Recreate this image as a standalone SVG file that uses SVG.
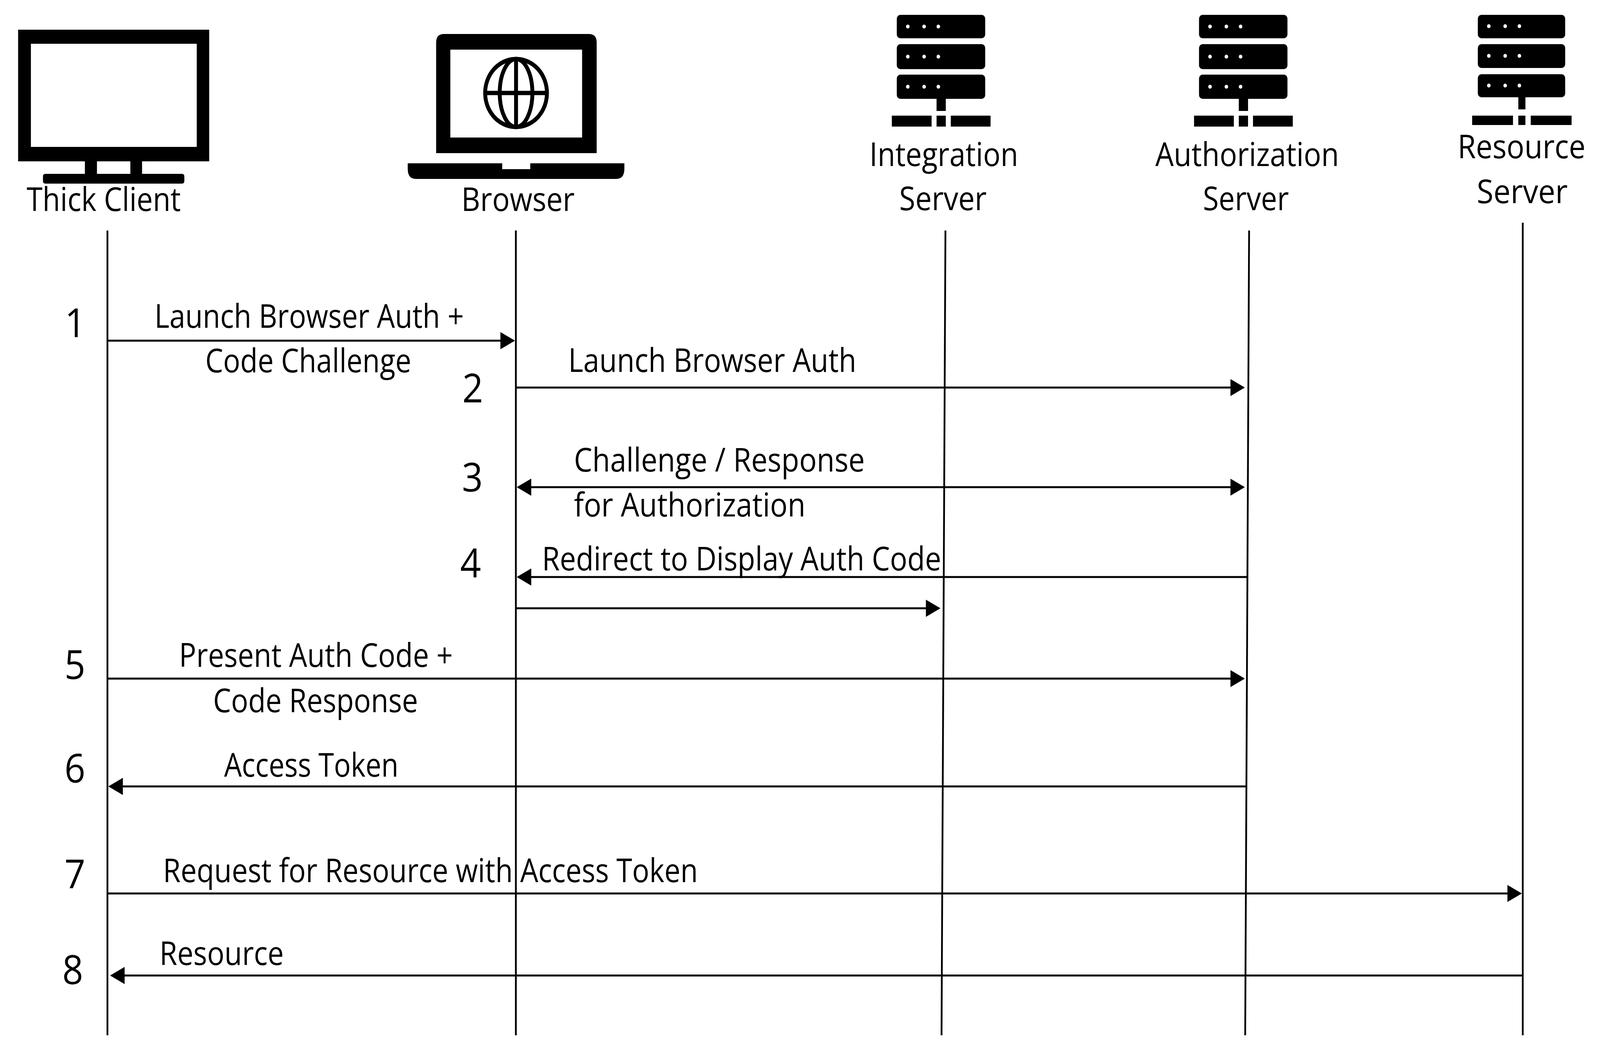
<svg xmlns="http://www.w3.org/2000/svg" width="4505" height="2680" viewBox="0 0 4505 2680" preserveAspectRatio="none" style="display:block;width:100vw;height:100vh">
<style>
.t{font-family:"Open Sans","Noto Sans","Liberation Sans",sans-serif;font-size:84px;fill:#000}
.n{font-family:"Open Sans","Noto Sans","Liberation Sans",sans-serif;font-size:103px;fill:#000;text-anchor:middle}
.l{stroke:#000;stroke-width:5;fill:none}
.m{stroke:#000;stroke-width:5;fill:none;marker-end:url(#ah)}
</style>
<defs>
<marker id="ah" markerUnits="userSpaceOnUse" markerWidth="42" markerHeight="46" refX="37" refY="23" orient="auto-start-reverse"><path d="M0 1L41 23L0 45Z" fill="#000"/></marker>
<g id="dots" fill="#fff"><circle cx="31" cy="0" r="5"/><circle cx="77" cy="0" r="5"/><circle cx="117" cy="0" r="5"/></g>
</defs>
<rect width="4505" height="2680" fill="#fff"/>

<g id="connectors">
<line class="l" x1="302.5" y1="590" x2="302.5" y2="2650"/>
<line class="l" x1="1452.5" y1="590" x2="1452.5" y2="2650"/>
<line class="l" x1="2662" y1="590" x2="2651" y2="2650"/>
<line class="l" x1="3517" y1="590" x2="3506" y2="2650"/>
<line class="l" x1="4287.5" y1="570" x2="4287.5" y2="2650"/>
<line class="m" x1="303" y1="872" x2="1446" y2="872"/>
<line class="m" x1="1453" y1="992" x2="3501" y2="992"/>
<line class="m" x1="1459" y1="1247" x2="3501" y2="1247" style="marker-start:url(#ah)"/>
<line class="m" x1="3514" y1="1477" x2="1459" y2="1477"/>
<line class="m" x1="1453" y1="1557" x2="2644" y2="1557"/>
<line class="m" x1="303" y1="1737" x2="3501" y2="1737"/>
<line class="m" x1="3510" y1="2013" x2="309" y2="2013"/>
<line class="m" x1="303" y1="2287" x2="4281" y2="2287"/>
<line class="m" x1="4287" y1="2497" x2="314" y2="2497"/>
</g>

<g id="node-thick-client">
<path fill-rule="evenodd" d="M51 76H589V413H51ZM87 112V376H554V112Z"/>
<rect x="239" y="410" width="34" height="40"/><rect x="367" y="410" width="33" height="40"/>
<rect x="121" y="445" width="398" height="25" rx="6"/>
<text class="t" x="75" y="540" textLength="434" lengthAdjust="spacingAndGlyphs">Thick Client</text>
</g>

<g id="node-browser">
<path fill-rule="evenodd" d="M1250 87H1658Q1680 87 1680 109V392H1228V109Q1228 87 1250 87ZM1268 127V352H1639V127Z"/>
<g fill="none" stroke="#000" stroke-width="11">
<circle cx="1453" cy="238" r="87"/>
<ellipse cx="1453" cy="238" rx="46" ry="87"/>
<line x1="1453" y1="151" x2="1453" y2="325"/>
<line x1="1366" y1="238" x2="1540" y2="238"/>
</g>
<path d="M1148 418H1414V433H1493V418H1758V432Q1758 458 1735 458H1171Q1148 458 1148 432Z"/>
<text class="t" x="1299" y="540" textLength="319" lengthAdjust="spacingAndGlyphs">Browser</text>
</g>

<g id="node-integration-server">
<rect x="2525" y="38" width="249" height="60" rx="10"/>
<rect x="2525" y="113" width="249" height="64" rx="10"/>
<rect x="2525" y="191" width="249" height="62" rx="10"/>
<use href="#dots" x="2525" y="68"/><use href="#dots" x="2525" y="145"/><use href="#dots" x="2525" y="222"/>
<rect x="2637" y="250" width="26" height="34"/>
<rect x="2511" y="296" width="112" height="28"/><rect x="2637" y="296" width="26" height="28"/><rect x="2677" y="296" width="112" height="28"/>
<text class="t" x="2448" y="425" textLength="419" lengthAdjust="spacingAndGlyphs">Integration</text>
<text class="t" x="2532" y="538" textLength="246" lengthAdjust="spacingAndGlyphs">Server</text>
</g>

<g id="node-authorization-server">
<rect x="3376" y="38" width="249" height="60" rx="10"/>
<rect x="3376" y="113" width="249" height="64" rx="10"/>
<rect x="3376" y="191" width="249" height="62" rx="10"/>
<use href="#dots" x="3376" y="68"/><use href="#dots" x="3376" y="145"/><use href="#dots" x="3376" y="222"/>
<rect x="3488" y="250" width="26" height="34"/>
<rect x="3362" y="296" width="112" height="28"/><rect x="3488" y="296" width="26" height="28"/><rect x="3528" y="296" width="112" height="28"/>
<text class="t" x="3253" y="425" textLength="517" lengthAdjust="spacingAndGlyphs">Authorization</text>
<text class="t" x="3387" y="538" textLength="242" lengthAdjust="spacingAndGlyphs">Server</text>
</g>

<g id="node-resource-server">
<rect x="4161" y="38" width="246" height="60" rx="10"/>
<rect x="4161" y="113" width="246" height="61" rx="10"/>
<rect x="4161" y="190" width="246" height="59" rx="10"/>
<use href="#dots" x="4161" y="67"/><use href="#dots" x="4161" y="143"/><use href="#dots" x="4161" y="219"/>
<rect x="4275" y="246" width="20" height="34"/>
<rect x="4145" y="296" width="115" height="24"/><rect x="4275" y="296" width="20" height="24"/><rect x="4310" y="296" width="115" height="24"/>
<text class="t" x="4104" y="405" textLength="360" lengthAdjust="spacingAndGlyphs">Resource</text>
<text class="t" x="4158" y="520" textLength="256" lengthAdjust="spacingAndGlyphs">Server</text>
</g>

<g id="labels">
<text class="n" x="212" y="863">1</text>
<text class="n" x="1331" y="1030">2</text>
<text class="n" x="1330" y="1258">3</text>
<text class="n" x="1325" y="1478">4</text>
<text class="n" x="211" y="1738">5</text>
<text class="n" x="211" y="2003">6</text>
<text class="n" x="211" y="2274">7</text>
<text class="n" x="205" y="2519">8</text>
<text class="t" x="435" y="839" textLength="871" lengthAdjust="spacingAndGlyphs">Launch Browser Auth +</text>
<text class="t" x="578" y="953" textLength="580" lengthAdjust="spacingAndGlyphs">Code Challenge</text>
<text class="t" x="1600" y="952" textLength="811" lengthAdjust="spacingAndGlyphs">Launch Browser Auth</text>
<text class="t" x="1616" y="1207" textLength="819" lengthAdjust="spacingAndGlyphs">Challenge / Response</text>
<text class="t" x="1616" y="1322" textLength="652" lengthAdjust="spacingAndGlyphs">for Authorization</text>
<text class="t" x="1526" y="1460" textLength="1124" lengthAdjust="spacingAndGlyphs">Redirect to Display Auth Code</text>
<text class="t" x="504" y="1707" textLength="771" lengthAdjust="spacingAndGlyphs">Present Auth Code +</text>
<text class="t" x="600" y="1823" textLength="577" lengthAdjust="spacingAndGlyphs">Code Response</text>
<text class="t" x="631" y="1988" textLength="491" lengthAdjust="spacingAndGlyphs">Access Token</text>
<text class="t" x="459" y="2258" textLength="1506" lengthAdjust="spacingAndGlyphs">Request for Resource with Access Token</text>
<text class="t" x="449" y="2470" textLength="350" lengthAdjust="spacingAndGlyphs">Resource</text>
</g>
</svg>
